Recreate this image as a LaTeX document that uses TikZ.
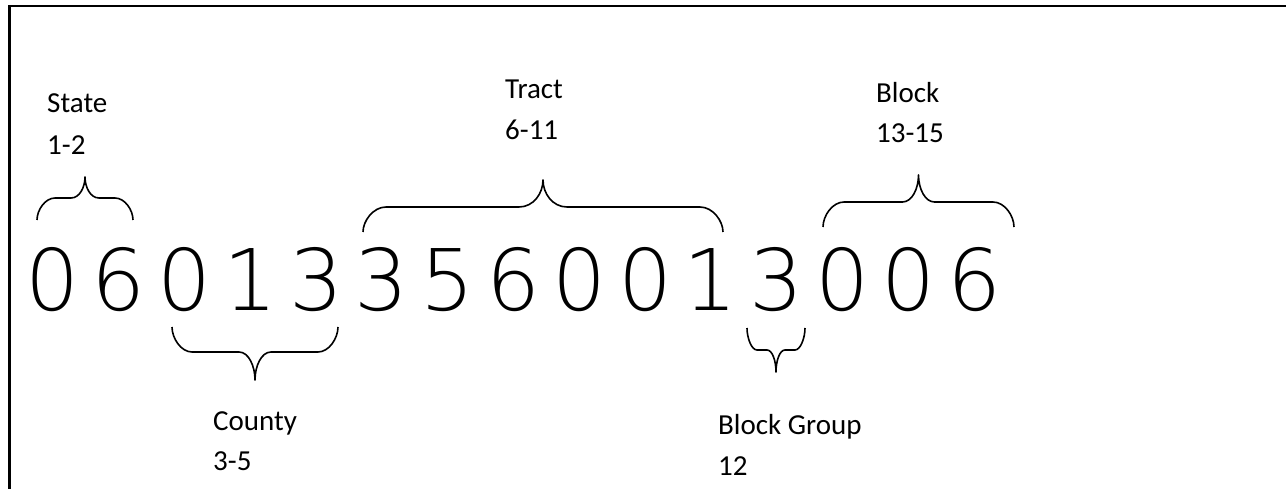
\documentclass[tikz,border=0pt]{standalone}
\usepackage{fontspec}
\setmainfont{Carlito}
\newfontfamily\digitfont{DejaVu Sans ExtraLight}
\begin{document}
\begin{tikzpicture}[x=1pt,y=-1pt,
  lbl/.style={anchor=base west,inner sep=0pt,font=\fontsize{29}{41}\selectfont},
  dig/.style={anchor=base,inner sep=0pt,font=\digitfont\fontsize{85}{100}\selectfont},
  bracepath/.style={line width=1.6pt,line join=round}]
\useasboundingbox (0,0) rectangle (1286,489);
\draw[line width=2.4pt] (9.3,489) -- (9.3,6) -- (1286,6);
% digits
\foreach \d [count=\i from 0] in {0,6,0,1,3,3,5,6,0,0,1,3,0,0,6}{
  \node[dig] (d\i) at ({53+65.8*\i},310) {\d};
}
% brace macro: xl, xr, y ends, y horizontal, y tip, end radius, centre half-width
\newcommand\mybrace[7]{%
  \pgfmathsetmacro\xm{(#1+#2)/2}%
  \pgfmathsetmacro\ya{#3+0.45*(#4-#3)}%
  \pgfmathsetmacro\yb{#4+0.5*(#5-#4)}%
  \draw[bracepath] (#1,#3) .. controls (#1,\ya) and ({#1+0.45*#6},#4) .. ({#1+#6},#4)
    -- ({\xm-#7},#4) .. controls ({\xm-0.4*#7},#4) and (\xm,\yb) .. (\xm,#5)
    .. controls (\xm,\yb) and ({\xm+0.4*#7},#4) .. ({\xm+#7},#4)
    -- ({#2-#6},#4) .. controls ({#2-0.45*#6},#4) and (#2,\ya) .. (#2,#3);}
\mybrace{37}{133}{220}{198}{177}{18}{14}
\mybrace{172}{338}{327}{352}{380}{20}{16}
\mybrace{363}{723}{232}{207}{180}{23}{24}
\mybrace{747}{805}{328}{350}{372}{10}{9}
\mybrace{823}{1014}{227}{202}{175}{21}{16}
% labels
\node[lbl] (state) at (47,113) {State};
\node[lbl] (stater) at (47,155) {1-2};
\node[lbl] (tract) at (505,99) {Tract};
\node[lbl] (tractr) at (505,140) {6-11};
\node[lbl] (block) at (876,103) {Block};
\node[lbl] (blockr) at (876,143) {13-15};
\node[lbl] (county) at (213,430) {County};
\node[lbl] (countyr) at (213,470) {3-5};
\node[lbl] (bg) at (718,434) {Block Group};
\node[lbl] (bgr) at (718,475) {12};
\end{tikzpicture}
\end{document}
